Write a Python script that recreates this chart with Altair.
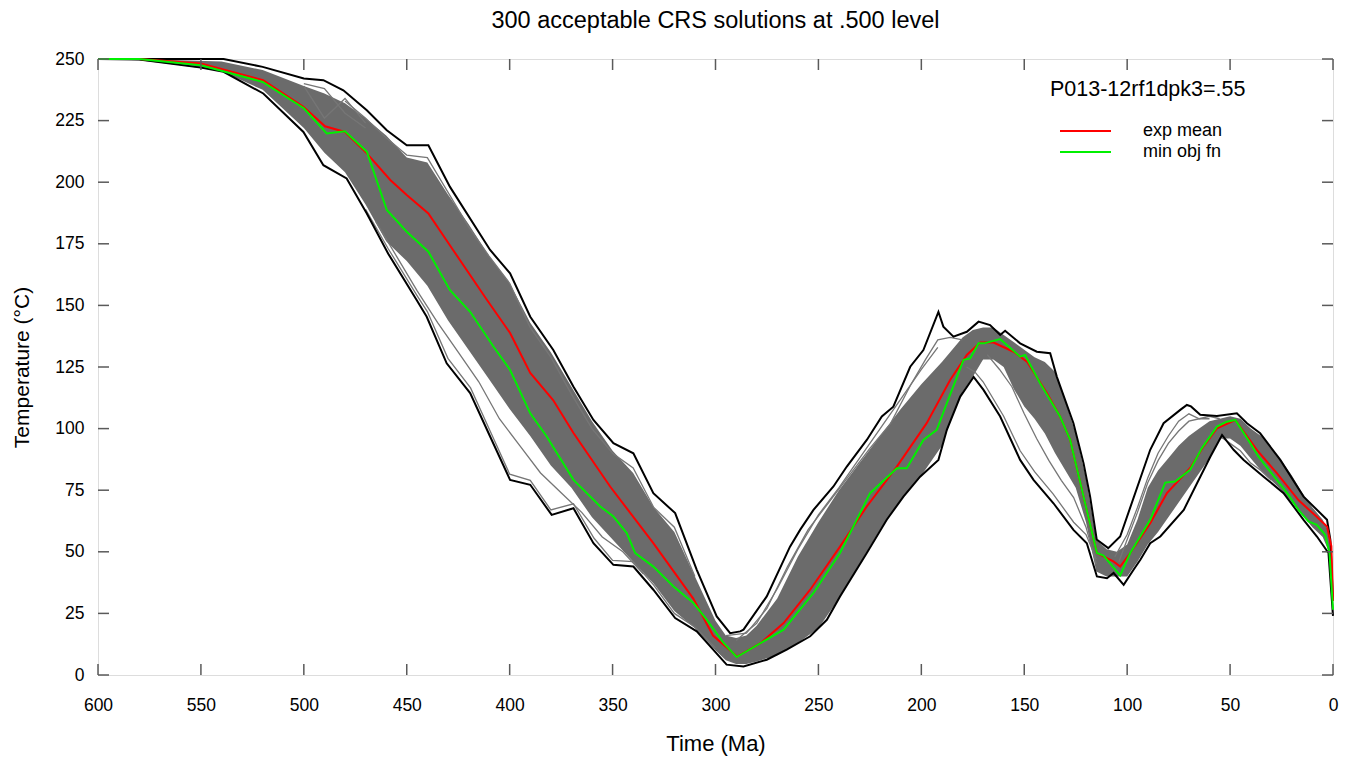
import altair as alt
import pandas as pd

# ---------------- data ----------------
X_TICKS = [0, 50, 100, 150, 200, 250, 300, 350, 400, 450, 500, 550, 600]
Y_TICKS = [0, 25, 50, 75, 100, 125, 150, 175, 200, 225, 250]

# upper (hottest) bounding path
UP_T = [600, 580, 539, 520, 500, 490.5, 480.8, 469.4, 459.7, 450, 439.5, 429, 409.5, 399.8, 390,
        378.8, 369, 359.3, 349.6, 339.9, 330.2, 319.6, 309.1, 299.4, 292.9, 288, 286.4, 275.1,
        263.8, 258.9, 252.4, 242.7, 236.2, 226.5, 219.2, 213.6, 205.4, 199, 191.7, 189.3, 184.4,
        177.9, 172.2, 166.6, 161.7, 159.3, 152, 143.9, 137.4, 134.2, 126.1, 121.2, 118, 114.8,
        109.2, 103.4, 88.8, 82.3, 74.2, 71, 69, 64.5, 56.4, 46.7, 41.8, 35.4, 25.6, 14.3, 2.9, 1.3, 0]
UP_V = [250, 250, 250, 246.8, 242.1, 241.4, 237.3, 229.2, 221.1, 215, 215, 198.1, 172.5, 163, 145.4,
        131.9, 117, 103.5, 94.1, 90, 73.8, 65.7, 42.7, 23.8, 17, 17.7, 18.4, 31.9,
        52.1, 58.9, 67, 76.5, 84.6, 95.4, 104.9, 108.9, 125.1, 131.9, 147.4, 141.4, 137.3,
        139.3, 143.4, 142, 138, 139.7, 134.6, 131.2, 130.6, 121.1, 102.2, 86, 72.4, 55,
        51.5, 56.2, 91.4, 102.2, 107.6, 109.6, 109, 105.6, 105.1, 106.2, 102.2, 98.1, 87.3, 72.4, 63, 54.9, 30]

# lower (coolest) bounding path
LOW_T = [600, 580, 550, 539, 519.7, 500.2, 490.5, 479.2, 469.4, 459, 445.2, 440.3, 430.6, 419.2,
         409.5, 399.8, 390, 379.6, 369, 359.3, 349.6, 339.9, 330.2, 319.6, 309.1, 294.6, 286.4,
         275.1, 265.4, 254, 245.9, 239.5, 226.5, 216.8, 208.7, 200.6, 191.7, 187.6, 181.1, 174.6,
         169.8, 161.7, 152, 145.5, 135.8, 126.1, 119.6, 114.7, 109.8, 106.6, 101.7, 96.9, 93.6,
         88.8, 83.9, 72.5, 66, 59.6, 53.9, 48.3, 43.4, 33.7, 24, 14.3, 7.8, 2.2, 0]
LOW_V = [250, 249.8, 246.5, 244.8, 236, 220.4, 206.9, 201.5, 187.3, 171, 152.2, 145.4, 126.5, 114.4,
         96.8, 79.2, 77.2, 65, 67.7, 53.5, 44.7, 44, 34.6, 23.1, 17.7, 4.2, 3.5,
         6.2, 10.3, 15.7, 22.4, 31.9, 49.5, 63, 72.4, 80.5, 87.3, 99.5, 113, 121,
         115.7, 104.9, 87.3, 79.2, 69.7, 58.9, 53.5, 40, 39.3, 41.4, 36.6, 42.7, 46.8,
         53.5, 56.2, 67, 77.9, 88.6, 97.4, 91.4, 87.3, 80.5, 73.8, 63, 56.2, 49.5, 24]

# expected mean path (red)
MEAN_T = [600, 580, 550, 519.8, 500.2, 489.7, 480, 469.4, 458, 450, 439.5, 427.5, 411, 399.8, 390,
          378.9, 369, 351.2, 330.3, 310.8, 301.2, 289.5, 278, 266.9, 254, 239.5, 226.5, 211.9,
          197.4, 186, 177.9, 171.4, 164.9, 155.2, 148.7, 139, 132.6, 127.7, 114.7, 106.7, 103.4,
          98.5, 88.8, 80.7, 69.4, 62.9, 56.4, 47.5, 37, 27.3, 16.8, 7.9, 2.9, 0.8, 0]
MEAN_V = [250, 250, 248.2, 241.4, 230.6, 222.7, 220.4, 211.7, 200.9, 194.8, 187.3, 172.5, 152.2, 138.8, 122.6,
          111.6, 98.2, 76.5, 53.6, 31, 16, 7.5, 13, 21.1, 34.6, 52.1, 68.4, 84.6,
          102.2, 119.7, 129.9, 134.9, 134.9, 131.2, 127.2, 114.4, 104.9, 95.4, 49.5, 46.1, 44,
          49.5, 61.6, 73.8, 84, 92.7, 100.1, 103.5, 91.4, 81.9, 71, 64.2, 60.3, 52.3, 30]

# minimum objective function path (green)
BEST_T = [600, 580, 550, 520, 500, 488.9, 480, 469.4, 459.7, 450, 439.5, 429, 419.2, 407.9, 399.8,
          390, 382, 369, 356, 349.6, 343.1, 339, 330.2, 320.4, 310.7, 304.2, 296.1, 289.7, 266.9,
          252.4, 239.5, 224.9, 211.9, 207.1, 199, 192.5, 187.6, 179.5, 176.3, 172.2, 169.5, 161.7,
          152, 149.6, 142.3, 132.6, 127.7, 114.7, 111.5, 103.4, 98.5, 88.8, 81.5, 76.7, 69.4,
          63.7, 56.4, 51.6, 47.5, 40.2, 36.2, 27.3, 21.6, 16.8, 11.9, 7.9, 3.8, 1.7, 0]
BEST_V = [250, 250, 247.5, 240.7, 230, 219.8, 220.7, 212.4, 188.7, 179.9, 171.8, 156.2, 147.4, 133.3, 123.8,
          106.2, 96.8, 79.2, 68.4, 64.3, 57.6, 49.5, 44, 35.9, 29.2, 22.4, 13, 7.3, 18.4,
          33.3, 49.5, 73.8, 83.9, 83.9, 95.4, 99.5, 110.3, 127.9, 128.5, 134.6, 134.6, 136.3,
          129.2, 129.9, 118.4, 104.9, 95.4, 49.5, 48.5, 40.4, 49.5, 63, 78.1, 78.5, 83.3,
          92.1, 100.8, 102.8, 103.5, 94.1, 88.6, 79.2, 73.1, 67, 62.3, 60.9, 56.9, 49.5, 26.5]

# grey core of the 300 accepted paths (lower / upper edge of the filled grey)
BAND_T = [600, 580, 560, 540, 520, 500, 490, 480, 470, 460, 450, 440, 430, 420, 410, 400, 390, 380, 370, 360,
          350, 340, 330, 320, 310, 300, 295, 290, 285, 280, 270, 260, 250, 240, 230, 220, 210, 200, 190, 185,
          180, 175, 170, 165, 160, 155, 150, 145, 140, 135, 130, 125, 120, 115, 110, 105, 100, 95, 90, 85,
          80, 75, 70, 65, 60, 55, 50, 45, 40, 35, 30, 25, 20, 15, 10, 5, 2, 0]
BAND_LO = [250, 249.5, 247.5, 245, 237.5, 222, 212, 204, 191, 176, 168, 158, 144, 132, 120, 108, 97, 85, 76, 64,
           55, 46, 37, 26, 19, 10, 6, 4.5, 4.5, 5.5, 8, 13, 19, 31, 45, 59, 71, 81, 93, 105,
           115, 121, 128, 128, 125, 116, 109, 104, 98, 90, 83, 76, 62, 42, 40, 40, 40, 46, 53, 58,
           64, 70, 76, 82, 88, 96, 96, 93, 88, 83, 79, 75, 70, 65, 60, 56, 50, 25]
BAND_HI = [250, 250, 249.5, 249, 245.5, 239, 236, 232, 226, 219, 210, 208, 195, 183, 170, 159, 143, 131, 117, 103,
           91, 82, 68, 58, 40, 22, 16, 15, 16, 20, 31, 48, 62, 75, 86, 97, 108, 118, 127, 132,
           137, 140, 141, 141, 138, 135, 132, 129, 127, 123, 111, 98, 80, 55, 51, 50, 53, 63, 76, 83,
           88, 93, 97, 100, 103, 104, 105, 104, 100, 97, 92, 87, 81, 74, 68, 63, 58, 29]

# a few of the scattered individual paths outside the grey core
SPARSE_LINES = [
    ([470, 459, 445, 440, 430, 419, 409.5, 400, 390, 380, 369, 359, 350, 340, 330, 320, 310, 300],
     [189, 173, 154, 147.5, 128.5, 116.5, 99, 81.5, 79, 67, 69.5, 55.5, 46.5, 46, 36.5, 25, 19.5, 11]),
    ([465, 455, 445, 435, 425, 415, 405, 395, 385, 375, 365, 355, 345, 335],
     [184, 170, 156, 143, 131, 119, 104, 93, 82, 74, 66, 56, 50, 41]),
    ([480, 470, 460, 450, 440, 430, 420, 410, 400, 390, 380, 370, 360, 350, 340, 330, 320, 310],
     [233, 226, 218, 211, 210, 196, 182, 170, 159, 141, 129, 114, 100, 90, 84, 68, 60, 40]),
    ([500, 490, 480, 470], [240, 238, 228, 222]),
    ([500, 490, 480, 470], [239, 226, 234, 224]),
    ([295, 285, 275, 265, 255, 245, 235, 225, 215, 205, 198, 192, 186, 180],
     [16, 17, 27, 44, 59, 70, 81, 92, 102, 118, 128, 136, 137, 136]),
    ([290, 280, 270, 260, 250, 240, 230, 220, 210, 200, 192],
     [14, 21, 35, 51, 65, 76, 88, 100, 112, 124, 133]),
    ([178, 174, 170, 165, 160, 152, 145, 136, 126, 120, 115],
     [125, 123, 119, 112, 105, 91, 82.5, 73.5, 62, 57, 47]),
    ([168, 162, 156, 150, 144, 138, 132, 126, 120, 115],
     [130, 124, 117, 106, 96, 87, 79, 72, 60, 45]),
    ([106, 100, 95, 90, 85, 80, 75, 70, 65, 60, 55],
     [48, 57, 68, 80, 90, 97, 103, 106, 104, 105, 104]),
    ([104, 100, 95, 90, 85, 80, 75, 70, 65, 60],
     [46, 55, 66, 78, 87, 94, 99, 103, 104, 104]),
    ([55, 50, 45, 40, 35, 30], [97, 94, 91, 86, 83, 79]),
]

TITLE = "300 acceptable CRS solutions at .500 level"
LEGEND_TITLE = "P013-12rf1dpk3=.55"
LEGEND_LABELS = ["exp mean", "min obj fn"]
LEGEND_COLORS = ["#ff0000", "#00f000"]

# ---------------- chart ----------------
FONT = "Liberation Sans"
W, H = 1235, 616
TICK_LEN = 11


def path_df(ts, vs, name):
    return pd.DataFrame({"t": ts, "temp": vs, "series": name})


band_df = pd.DataFrame({"t": BAND_T, "temp": BAND_LO, "hi": BAND_HI})
env_df = pd.concat([path_df(UP_T, UP_V, "upper"), path_df(LOW_T, LOW_V, "lower")])
sparse_df = pd.concat([path_df(ts, vs, f"s{i}") for i, (ts, vs) in enumerate(SPARSE_LINES)])
mean_df = path_df(MEAN_T, MEAN_V, "mean")
best_df = path_df(BEST_T, BEST_V, "best")

x_axis = alt.Axis(values=X_TICKS, title="Time (Ma)", ticks=False, tickSize=0, domain=False, grid=False,
                  labelFont=FONT, labelFontSize=17.5, labelColor="black", labelPadding=21,
                  labelFlush=False, labelOverlap=False,
                  titleFont=FONT, titleFontSize=22, titleFontWeight="normal", titleColor="black",
                  titlePadding=20)
y_axis = alt.Axis(values=Y_TICKS, title="Temperature (°C)", ticks=False, tickSize=0, domain=False, grid=False,
                  labelFont=FONT, labelFontSize=17.5, labelColor="black", labelPadding=14,
                  labelFlush=False, labelOverlap=False,
                  titleFont=FONT, titleFontSize=21, titleFontWeight="normal", titleColor="black",
                  titlePadding=22)

x_scale = alt.Scale(domain=[0, 600], reverse=True, nice=False, zero=False)
y_scale = alt.Scale(domain=[0, 250], nice=False, zero=False)


def X():
    return alt.X("t:Q", scale=x_scale, axis=x_axis)


def Y():
    return alt.Y("temp:Q", scale=y_scale, axis=y_axis)


band = alt.Chart(band_df).mark_area(color="#6b6b6b", opacity=1).encode(
    x=X(), y=Y(), y2=alt.Y2("hi:Q"))

sparse = alt.Chart(sparse_df).mark_line(color="#767676", strokeWidth=1.3).encode(
    x=X(), y=Y(), detail="series:N")

env = alt.Chart(env_df).mark_line(color="black", strokeWidth=2).encode(
    x=X(), y=Y(), detail="series:N")

mean = alt.Chart(mean_df).mark_line(color=LEGEND_COLORS[0], strokeWidth=2).encode(x=X(), y=Y())
best = alt.Chart(best_df).mark_line(color=LEGEND_COLORS[1], strokeWidth=2).encode(x=X(), y=Y())

xt_df = pd.DataFrame({"t": X_TICKS})
yt_df = pd.DataFrame({"temp": Y_TICKS})
tick_style = dict(color="#5a5a5a", strokeWidth=1.5)
ticks_bottom = alt.Chart(xt_df).mark_rule(**tick_style).encode(
    x=X(), y=alt.value(H), y2=alt.value(H - TICK_LEN))
ticks_top = alt.Chart(xt_df).mark_rule(**tick_style).encode(
    x=X(), y=alt.value(0), y2=alt.value(TICK_LEN))
ticks_left = alt.Chart(yt_df).mark_rule(**tick_style).encode(
    y=Y(), x=alt.value(0), x2=alt.value(TICK_LEN))
ticks_right = alt.Chart(yt_df).mark_rule(**tick_style).encode(
    y=Y(), x=alt.value(W), x2=alt.value(W - TICK_LEN))

# legend (annotation block in the upper-right corner)
LEG_X0, LEG_Y0 = 952, 31
leg_title = alt.Chart(pd.DataFrame({"label": [LEGEND_TITLE]})).mark_text(
    align="left", baseline="middle", font=FONT, fontSize=21.5, color="black").encode(
    x=alt.value(LEG_X0), y=alt.value(LEG_Y0), text="label:N")

legend_layers = []
for i, (lab, col) in enumerate(zip(LEGEND_LABELS, LEGEND_COLORS)):
    yy = 72 + 21 * i
    d = pd.DataFrame({"label": [lab]})
    legend_layers.append(alt.Chart(d).mark_rule(color=col, strokeWidth=2).encode(
        x=alt.value(962), x2=alt.value(1013), y=alt.value(yy)))
    legend_layers.append(alt.Chart(d).mark_text(
        align="left", baseline="middle", font=FONT, fontSize=18, color="black").encode(
        x=alt.value(1045), y=alt.value(yy), text="label:N"))

chart = alt.layer(
    band, sparse, env, mean, best,
    ticks_bottom, ticks_top, ticks_left, ticks_right,
    leg_title, *legend_layers
).properties(
    width=W, height=H,
    title=alt.TitleParams(text=TITLE, font=FONT, fontSize=23.5, fontWeight="normal",
                          color="black", anchor="middle", offset=18),
    autosize=alt.AutoSizeParams(type="none"),
    padding={"left": 98, "top": 59, "right": 26, "bottom": 86},
).configure_view(
    stroke="black", strokeWidth=2
).configure(background="white")

chart.save("out.html", embed_options={"renderer": "svg", "actions": False})
